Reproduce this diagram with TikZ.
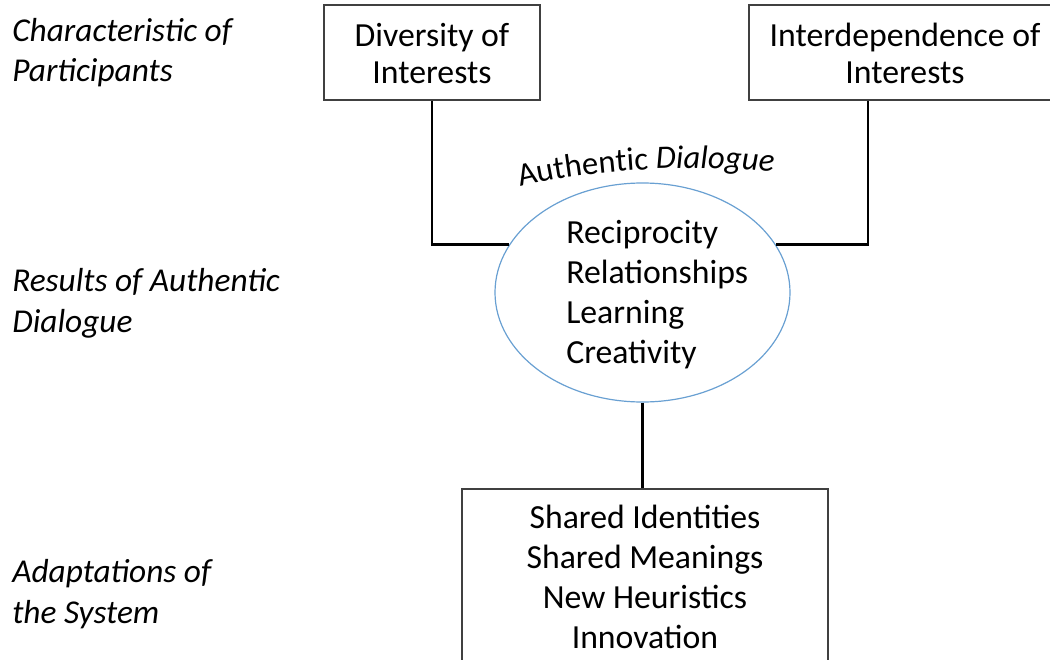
\documentclass[tikz,border=0pt]{standalone}
\usepackage{fontspec}
\setmainfont{Carlito}
\usetikzlibrary{shapes.geometric,decorations.text}
\definecolor{ellblue}{RGB}{105,160,210}
\begin{document}
\begin{tikzpicture}[x=0.75pt,y=-0.75pt,
  box/.style={draw=black!75, line width=1.1pt, fill=white, inner sep=0pt},
  conn/.style={draw=black, line width=2.2pt},
  side/.style={font=\fontsize{25}{30.5}\selectfont\itshape, align=left, anchor=base west, inner sep=0pt},
  boxtxt/.style={font=\fontsize{25.3}{27.5}\selectfont, align=center, anchor=base, inner sep=0pt},
  listtxt/.style={font=\fontsize{25.3}{30}\selectfont, anchor=base, inner sep=0pt},
]
\useasboundingbox (0,0) rectangle (1050,660);
\clip (0,0) rectangle (1050,660);
% boxes
\node[box, minimum width=162pt, minimum height=71.25pt] (b1) at (432,52.5) {};
\node[box, minimum width=240.75pt, minimum height=71.25pt] (b2) at (909.5,52.5) {};
\node[box, minimum width=274.5pt, minimum height=158.25pt] (b3) at (645,594.5) {};
\node[draw=ellblue, line width=0.9pt, ellipse, inner sep=0pt, minimum width=221.25pt, minimum height=164.25pt] (ell) at (642.5,292.5) {};
% texts
\node[boxtxt] (t1) at (432,83.5) {Diversity of\\Interests};
\node[boxtxt] (t2) at (905,83.5) {Interdependence of\\Interests};
\node[listtxt, align=left, anchor=base west] (t3) at (566,363) {Reciprocity\\Relationships\\Learning\\Creativity};
\node[listtxt, align=center] (t4) at (645,648) {Shared Identities\\Shared Meanings\\New Heuristics\\Innovation};
\node[side] (s1) at (12,82) {Characteristic of\\Participants};
\node[side] (s2) at (12,332) {Results of Authentic\\Dialogue};
\node[side] (s3) at (12,623) {Adaptations of\\the System};
% connectors
\draw[conn] (b1.south) |- (ell.160);
\draw[conn] ([xshift=-31.125pt]b2.south) |- (ell.20);
\draw[conn] (ell.south) -- (ell.south |- b3.north);
% arc text
\coordinate (a0) at (516,188);
\coordinate (a1) at (590,168);
\coordinate (a2) at (700,164);
\coordinate (a3) at (778,172);
\path[decorate, decoration={text along path, text align=center,
  text={|\fontsize{24.5}{28}\selectfont|Authentic |\fontsize{24.5}{28}\selectfont\itshape|Dialogue}}]
  (a0) .. controls (a1) and (a2) .. (a3);
\end{tikzpicture}
\end{document}
